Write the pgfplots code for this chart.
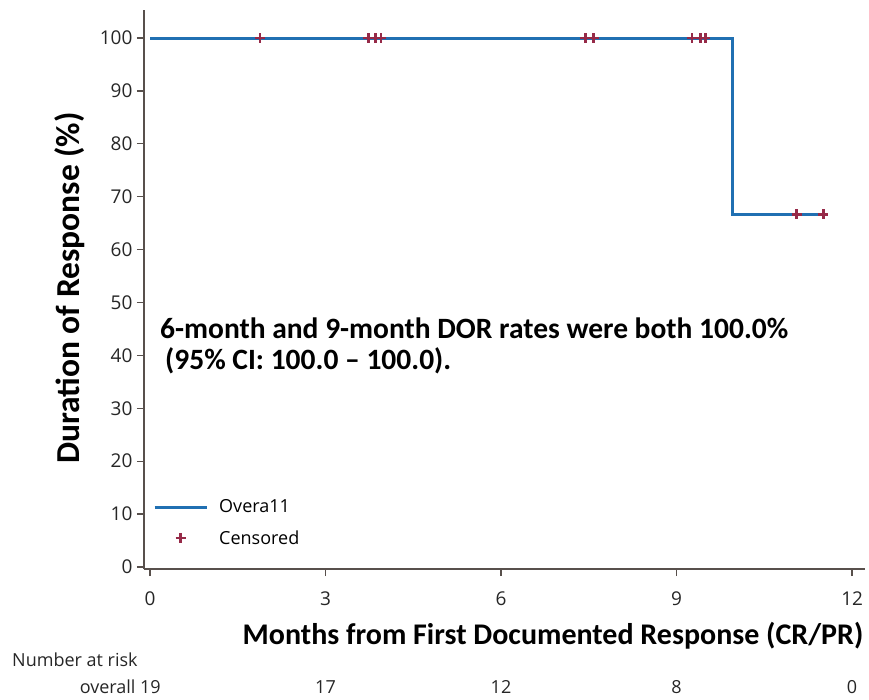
\documentclass[border=0pt]{standalone}
\usepackage{fontspec}
\setmainfont{Open Sans}
\newfontfamily\carlito{Carlito}
\usepackage{pgfplots}
\pgfplotsset{compat=1.18}
\definecolor{kmblue}{RGB}{32,112,178}
\definecolor{censred}{RGB}{150,42,72}
\definecolor{spine}{RGB}{88,80,76}
\pgfplotsset{
    kmlegend/.style={legend image code/.code={\draw[##1] (0pt,0pt) -- (52pt,0pt);}},
    censlegend/.style={legend image code/.code={\draw[##1] plot coordinates {(26pt,0pt)};}},
}

\begin{document}
\begin{tikzpicture}
\useasboundingbox (-144pt,-130pt) rectangle (725pt,569pt);
\begin{axis}[
    scale only axis,
    width=721pt, height=559pt,
    xmin=-0.103, xmax=12.22,
    ymin=-0.38, ymax=105.3,
    axis x line*=bottom, axis y line*=left,
    axis line style={spine, line width=1.6pt, -},
    xtick={0,3,6,9,12},
    ytick={0,10,...,100},
    tick align=outside,
    major tick length=7pt,
    tick style={spine, line width=1.3pt},
    /pgf/number format/assume math mode=true,
    ticklabel style={font=\fontsize{19}{22}\selectfont, text=black!85},
    xticklabel style={yshift=-12pt},
    yticklabel style={xshift=-1pt},
    clip=false,
    legend style={draw=none, fill=none, at={(0.0125,0.038)}, anchor=south west,
        font=\fontsize{18}{21}\selectfont, row sep=12pt, column sep=9pt, inner sep=0pt},
    legend cell align=left,
]
\addplot[kmblue, line width=3pt, kmlegend]
    coordinates {(0,100) (9.96,100) (9.96,66.67) (11.51,66.67)};
\addlegendentry{Overa11}
\addplot[only marks, mark=+, mark size=5pt, censred, line width=2.6pt, censlegend]
    coordinates {
    (1.88,100) (3.73,100) (3.85,100) (3.95,100) (7.44,100) (7.58,100)
    (9.26,100) (9.41,100) (9.49,100) (11.05,66.67) (11.51,66.67)
    };
\addlegendentry{Censored}
\end{axis}
\node[rotate=90, font=\carlito\bfseries\fontsize{33.5}{36}\selectfont] at (-74pt,281pt) {Duration of Response (\%)};
\node[font=\carlito\bfseries\fontsize{30}{34}\selectfont] at (409pt,-67pt) {Months from First Documented Response (CR/PR)};
\node[anchor=west, inner sep=0pt, font=\carlito\bfseries\fontsize{29.5}{34}\selectfont] at (16pt,241pt) {6-month and 9-month DOR rates were both 100.0\%};
\node[anchor=west, inner sep=0pt, font=\carlito\bfseries\fontsize{29.5}{34}\selectfont] at (21pt,208pt) {(95\% CI: 100.0 – 100.0).};
\begin{scope}[every node/.style={font=\fontsize{18}{21}\selectfont, text=black!85, inner sep=0pt}]
\node[anchor=west] at (-132pt,-91pt) {Number at risk};
\node[anchor=east] at (17pt,-118pt) {overall 19};
\node at (181.5pt,-118pt) {17};
\node at (357pt,-118pt) {12};
\node at (532.5pt,-118pt) {8};
\node at (708pt,-118pt) {0};
\end{scope}
\end{tikzpicture}
\end{document}
